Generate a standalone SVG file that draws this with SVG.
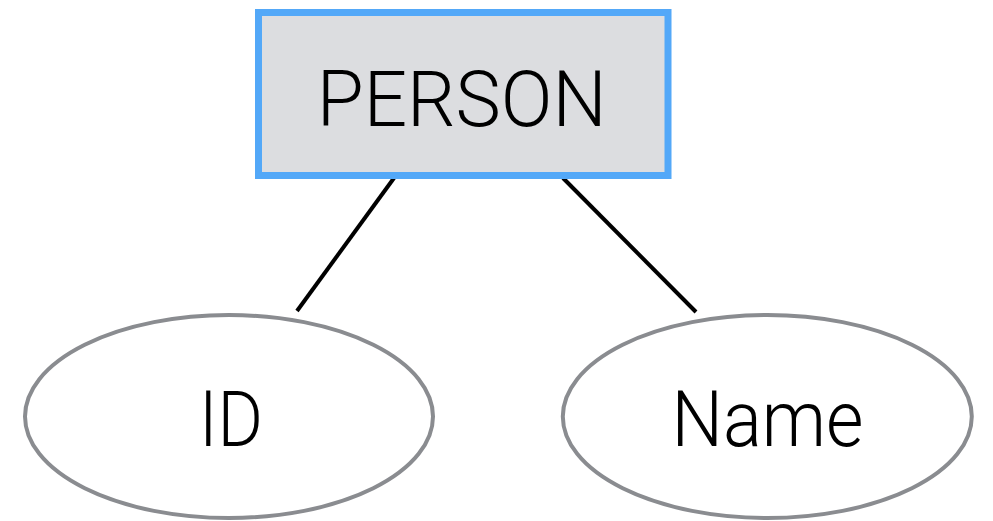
<svg xmlns="http://www.w3.org/2000/svg" width="993" height="521" viewBox="0 0 993 521">
  <style>
    .entity { fill: #dcdde0; stroke: #53a8f8; stroke-width: 7; }
    .attr { fill: #ffffff; stroke: #8a8c90; stroke-width: 4; }
    .label { font-family: Roboto, "Liberation Sans", sans-serif; font-weight: 300; font-size: 77px; fill: #000000; text-anchor: middle; }
    .link { stroke: #000000; stroke-width: 4; fill: none; }
  </style>
  <rect width="993" height="521" fill="#ffffff"/>
  <g id="connectors">
    <line class="link" x1="394" y1="178" x2="297" y2="311"/>
    <line class="link" x1="563" y1="178" x2="696" y2="312"/>
  </g>
  <g id="person">
    <rect class="entity" x="258.5" y="12.5" width="409.5" height="163"/>
    <text class="label" x="461.7" y="126" textLength="290" lengthAdjust="spacingAndGlyphs">PERSON</text>
  </g>
  <g id="id">
    <ellipse class="attr" cx="229" cy="416.5" rx="204" ry="101.5"/>
    <text class="label" x="231" y="445.7" textLength="64" lengthAdjust="spacingAndGlyphs">ID</text>
  </g>
  <g id="name">
    <ellipse class="attr" cx="767.3" cy="416.5" rx="204.5" ry="101.5"/>
    <text class="label" x="767.5" y="445.7" textLength="192" lengthAdjust="spacingAndGlyphs">Name</text>
  </g>
</svg>
